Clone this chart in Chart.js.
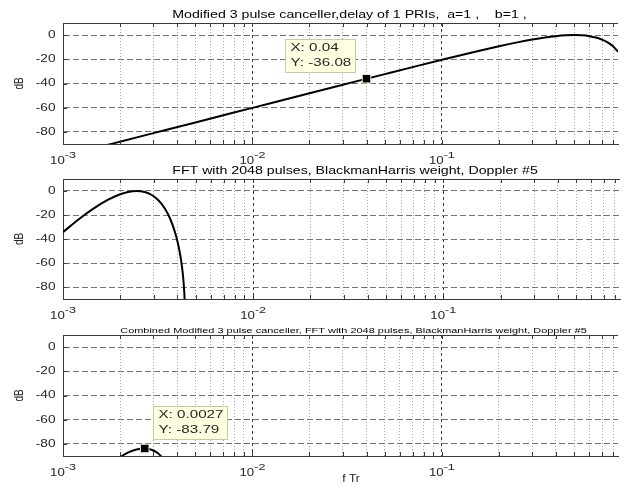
<!DOCTYPE html>
<html>
<head>
<meta charset="utf-8">
<script src="https://cdn.jsdelivr.net/npm/chart.js@4.4.1/dist/chart.umd.min.js"></script>
<style>
  html, body { margin: 0; padding: 0; background: #fff; }
  #wrap { position: relative; width: 625px; height: 494px; overflow: hidden; }
  canvas { position: absolute; left: 0; }
</style>
</head>
<body>
<div id="wrap">
  <canvas id="c1" width="625" height="170" style="top:0px"></canvas>
  <canvas id="c2" width="625" height="170" style="top:160px"></canvas>
  <canvas id="c3" width="625" height="178" style="top:316px"></canvas>
</div>
<script>
// axis ticks
const xTickVals = [0.001, 0.002, 0.003, 0.004, 0.005, 0.006, 0.007, 0.008, 0.009,
  0.01, 0.02, 0.03, 0.04, 0.05, 0.06, 0.07, 0.08, 0.09,
  0.1, 0.2, 0.3, 0.4, 0.5, 0.6, 0.7, 0.8];
const yTickVals = [-80, -60, -40, -20, 0];
const decadeVals = [0.001, 0.01, 0.1];
const decadeExps = ['-3', '-2', '-1'];

// modified 3 pulse canceller response (dB)
const cancX = [0.0017, 0.0018, 0.002, 0.003, 0.005, 0.01, 0.02, 0.03, 0.04, 0.05, 0.07,
  0.1, 0.15, 0.2, 0.25, 0.3, 0.35, 0.4, 0.45, 0.5, 0.55, 0.6, 0.65, 0.7, 0.75, 0.8, 0.85];
const cancY = [-90.90, -89.90, -88.07, -81.03, -72.16, -60.12, -48.08, -41.06, -36.08, -32.23, -26.45,
  -20.40, -13.72, -9.23, -6.02, -3.68, -2.00, -0.87, -0.22, 0.00, -0.22, -0.87, -2.00, -3.68, -6.02, -9.23, -13.72];

// FFT doppler filter #5, BlackmanHarris weight
const fftX = [0.0010, 0.0012207, 0.0014648, 0.0017090, 0.0019531, 0.0021973, 0.0024414,
  0.0026855, 0.0029297, 0.0031738, 0.0034180, 0.0036621, 0.0039063, 0.0040283,
  0.0041504, 0.0042725, 0.0043457, 0.0043701];
const fftY = [-34.3, -23.13, -14.11, -7.69, -3.34, -0.83, 0.00,
  -0.83, -3.34, -7.69, -14.11, -23.13, -35.77, -44.14,
  -54.79, -69.8, -84.9, -93.6];

// combined response
const combX = [0.0019531, 0.0021973, 0.0024414, 0.0026855, 0.0029297, 0.0031738, 0.0034180];
const combY = [-91.83, -87.27, -84.61, -83.78, -84.78, -87.74, -92.87];

// data tips
const tip1X = [0.04];
const tip1Y = [-36.08];
const tip3X = [0.0027];
const tip3Y = [-83.79];

const FONT = '"Liberation Sans", Arial, Helvetica, sans-serif';
const INK = '#262626';

function sText(ctx, str, x, y, size, align, sx, base) {
  ctx.save();
  ctx.translate(x, y);
  ctx.scale(sx, 1);
  ctx.font = size + 'px ' + FONT;
  ctx.textAlign = align;
  ctx.textBaseline = base || 'alphabetic';
  ctx.fillText(str, 0, 0);
  ctx.restore();
}

function isDecade(v) {
  const l = Math.log10(v);
  return Math.abs(l - Math.round(l)) < 1e-6;
}

const matlabAxes = {
  id: 'matlabAxes',
  afterDraw(chart, args, conf) {
    const ctx = chart.ctx;
    const a = chart.chartArea;
    const xs = chart.scales.x, ys = chart.scales.y;
    ctx.save();

    // top box line
    ctx.strokeStyle = '#3a3a3a';
    ctx.lineWidth = 1;
    ctx.beginPath();
    ctx.moveTo(a.left, a.top + 0.5);
    ctx.lineTo(a.right, a.top + 0.5);
    ctx.stroke();

    // inner tick marks
    ctx.beginPath();
    xTickVals.forEach(v => {
      const px = Math.round(xs.getPixelForValue(v)) + 0.5;
      ctx.moveTo(px, a.bottom); ctx.lineTo(px, a.bottom - 4);
      ctx.moveTo(px, a.top); ctx.lineTo(px, a.top + 4);
    });
    yTickVals.forEach(v => {
      const py = Math.round(ys.getPixelForValue(v)) + 0.5;
      ctx.moveTo(a.left, py); ctx.lineTo(a.left + 4, py);
    });
    ctx.stroke();

    // data tip
    if (conf.tip) {
      const el = chart.getDatasetMeta(0).data[0];
      const l1 = 'X: ' + conf.tip.x, l2 = 'Y: ' + conf.tip.y.toFixed(2);
      ctx.font = '11px ' + FONT;
      const tw = Math.max(ctx.measureText(l1).width, ctx.measureText(l2).width) * 1.38;
      const bx = Math.round(el.x + conf.tip.dx) + 0.5, by = Math.round(el.y + conf.tip.dy) + 0.5;
      const bw = Math.round(tw + 9), bh = 33;
      ctx.fillStyle = '#ffffe1';
      ctx.strokeStyle = '#c9c9a6';
      ctx.fillRect(bx, by, bw, bh);
      ctx.strokeRect(bx, by, bw, bh);
      ctx.fillStyle = INK;
      sText(ctx, l1, bx + 5, by + 8, 11, 'left', 1.38, 'middle');
      sText(ctx, l2, bx + 5, by + 23.5, 11, 'left', 1.38, 'middle');
    }

    ctx.fillStyle = INK;
    // y tick labels
    yTickVals.forEach(v => {
      sText(ctx, String(v), 55.5, ys.getPixelForValue(v), 10.3, 'right', 1.33, 'middle');
    });
    // x tick labels 10^n
    decadeVals.forEach((v, i) => {
      if (v < xs.min || v > xs.max) return;
      const px = xs.getPixelForValue(v);
      ctx.font = '11.5px ' + FONT;
      const w1 = ctx.measureText('10').width * 1.15;
      ctx.font = '9px ' + FONT;
      const w2 = ctx.measureText(decadeExps[i]).width * 1.4;
      const left = px - (w1 + w2) / 2;
      const base = a.bottom + 19.5;
      sText(ctx, '10', left, base, 11.5, 'left', 1.15);
      sText(ctx, decadeExps[i], left + w1, base - 6, 9, 'left', 1.4);
    });

    // y label
    ctx.save();
    ctx.translate(19.5, (a.top + a.bottom) / 2);
    ctx.scale(1.3, 1);
    ctx.rotate(-Math.PI / 2);
    ctx.font = '10px ' + FONT;
    ctx.textAlign = 'center';
    ctx.textBaseline = 'middle';
    ctx.fillText('dB', 0, 0);
    ctx.restore();

    // title
    ctx.fillStyle = '#000';
    sText(ctx, conf.title, conf.titleX, conf.titleBase, conf.titleSize, 'center', 1.35);

    if (conf.xlabel) {
      ctx.fillStyle = INK;
      sText(ctx, conf.xlabel, 351, conf.xlabelBase, 11, 'center', 1.1);
    }
    ctx.restore();
  }
};

function makeChart(id, curveX, curveY, tipX, tipY, conf) {
  const datasets = [];
  if (tipX) {
    datasets.push({
      data: tipX.map((x, i) => ({ x: x, y: tipY[i] })),
      showLine: false,
      pointStyle: 'rect',
      pointRadius: 6,
      pointBackgroundColor: '#000',
      pointBorderColor: '#ecebc4',
      pointBorderWidth: 1,
      order: -1
    });
    conf.tip.x = tipX[0];
    conf.tip.y = tipY[0];
  }
  datasets.push({
    data: curveX.map((x, i) => ({ x: x, y: curveY[i] })),
    borderColor: '#000',
    borderWidth: 2,
    pointRadius: 0,
    fill: false,
    cubicInterpolationMode: 'monotone'
  });

  return new Chart(document.getElementById(id), {
    type: 'line',
    data: { datasets: datasets },
    options: {
      responsive: false,
      animation: false,
      events: [],
      devicePixelRatio: 1,
      layout: { padding: { top: conf.padTop, right: 5, bottom: 0, left: 0 } },
      plugins: {
        legend: { display: false },
        tooltip: { enabled: false },
        title: { display: false },
        matlabAxes: conf
      },
      scales: {
        x: {
          type: 'logarithmic',
          min: 0.001,
          max: 0.85,
          bounds: 'data',
          afterBuildTicks: s => { s.ticks = xTickVals.map(v => ({ value: v })); },
          afterFit: s => { s.height = conf.xh; },
          ticks: { display: false },
          grid: {
            drawTicks: false,
            lineWidth: 1,
            color: c => (c.tick && isDecade(c.tick.value)) ? '#3c3c3c' : '#a6a6a6'
          },
          border: {
            color: '#3a3a3a',
            width: 1,
            dash: c => c.tick ? (isDecade(c.tick.value) ? [3, 3] : [1, 2]) : []
          }
        },
        y: {
          type: 'linear',
          min: -90,
          max: 10,
          afterBuildTicks: s => { s.ticks = yTickVals.map(v => ({ value: v })); },
          afterFit: s => { s.width = 63; },
          ticks: { display: false },
          grid: { drawTicks: false, lineWidth: 1, color: '#737373' },
          border: { color: '#3a3a3a', width: 1, dash: [6, 3] }
        }
      }
    },
    plugins: [matlabAxes]
  });
}

makeChart('c1', cancX, cancY, tip1X, tip1Y, {
  padTop: 23, xh: 26,
  title: 'Modified 3 pulse canceller,delay of 1 PRIs,  a=1 ,    b=1 ,',
  titleX: 349.5, titleBase: 18, titleSize: 10.5,
  tip: { dx: -81.4, dy: -39.3 }
});
makeChart('c2', fftX, fftY, null, null, {
  padTop: 19, xh: 31,
  title: 'FFT with 2048 pulses, BlackmanHarris weight, Doppler #5',
  titleX: 355, titleBase: 14, titleSize: 10.5
});
makeChart('c3', combX, combY, tip3X, tip3Y, {
  padTop: 19, xh: 38,
  title: 'Combined Modified 3 pulse canceller, FFT with 2048 pulses, BlackmanHarris weight, Doppler #5',
  titleX: 353.5, titleBase: 17, titleSize: 8.1,
  tip: { dx: 8, dy: -42.5 },
  xlabel: 'f Tr', xlabelBase: 166
});
</script>
</body>
</html>
